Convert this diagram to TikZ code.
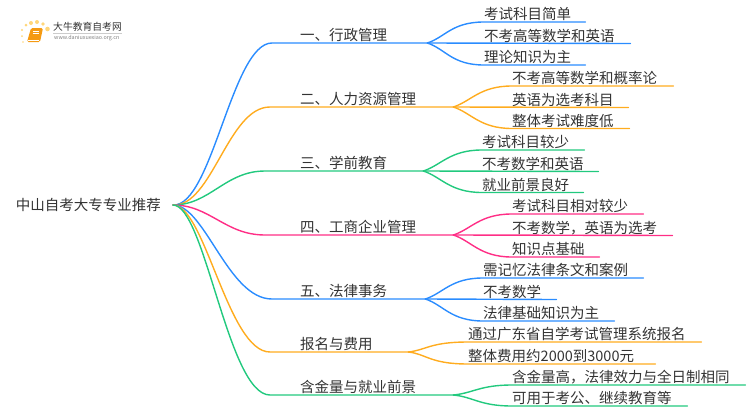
\documentclass[tikz,border=0pt]{standalone}
\usepackage{fontspec}
\setmainfont{Noto Sans CJK SC}
\usetikzlibrary{arrows.meta,positioning}
\definecolor{inkgray}{HTML}{333333}
\definecolor{linkblue}{HTML}{2A8CFF}
\definecolor{linkorange}{HTML}{FFAC1F}
\definecolor{linkgreen}{HTML}{22C97E}
\definecolor{linkpink}{HTML}{FF2E86}
\definecolor{sundot}{HTML}{FFD67A}
\definecolor{bookorange}{HTML}{F59A12}
\begin{document}
\begin{tikzpicture}[
    x=1pt, y=-1pt,
    root/.style={inner sep=0pt, anchor=east, text width=157pt, align=left, font=\fontsize{14.5pt}{16pt}\selectfont, text=inkgray},
    topic/.style={inner sep=0pt, anchor=south west, align=left, text depth=2.2pt, font=\fontsize{14.5pt}{16pt}\selectfont, text=inkgray},
    link/.style={line width=1.4pt, line cap=round},
    bluelink/.style={link, draw=linkblue},
    orangelink/.style={link, draw=linkorange},
    greenlink/.style={link, draw=linkgreen},
    pinklink/.style={link, draw=linkpink},
    sun/.style={fill=sundot, draw=none}
]
\useasboundingbox (0,0) rectangle (750,410);
% logo
\fill[sun] (47.5,29) circle (2.3);
\fill[sun] (43,24) circle (1.8);
\fill[sun] (37,22) circle (2);
\fill[sun] (31,23) circle (2);
\fill[sun] (26,25) circle (1.5);
\fill[sun] (22,30) circle (1.2);
\fill[sun] (22,36) circle (1);
\fill[sun] (23,42) circle (.8);
\fill[bookorange, rounded corners=1.5pt] (31,28) -- (43,28) -- (40,42) -- (27,42) -- cycle;
\draw[white, line width=.5pt] (33,31) -- (39,31) (32.5,33) -- (38.5,33) (28,40) -- (39,40);
\node[inner sep=0pt, anchor=west, text=inkgray, font=\fontsize{9.8pt}{11pt}\selectfont] (logoname) at (53,27) {大牛教育自考网};
\node[inner sep=0pt, anchor=west, text=gray, font=\fontsize{5.4pt}{6pt}\selectfont] (logourl) at (54,38.5) {www.daniuxuexiao.org.cn};
\draw[gray!40, line width=.4pt] (logoname.south west) ++(0,1.5) -- ++(69,0);
% root and topics
\node[root] (recommend) at (173,205) {中山自考大专专业推荐};
\node[topic, text width=127pt] (admin) at (300,43) {一、行政管理};
\node[topic, text width=153pt] (staff) at (300,107) {二、人力资源管理};
\node[topic, text width=123pt] (preschool) at (300,171) {三、学前教育};
\node[topic, text width=153pt] (business) at (300,235) {四、工商企业管理};
\node[topic, text width=125pt] (law) at (300,299) {五、法律事务};
\node[topic, text width=108pt] (signup) at (300,352) {报名与费用};
\node[topic, text width=153pt] (value) at (300,395) {含金量与就业前景};
% leaves
\node[topic, text width=101pt] (admin1) at (484,22) {考试科目简单};
\node[topic, text width=146pt] (admin2) at (484,43.5) {不考高等数学和英语};
\node[topic, text width=101pt] (admin3) at (484,65) {理论知识为主};
\node[topic, text width=161pt] (staff1) at (512,86) {不考高等数学和概率论};
\node[topic, text width=116pt] (staff2) at (512,107.5) {英语为选考科目};
\node[topic, text width=117pt] (staff3) at (512,128.5) {整体考试难度低};
\node[topic, text width=102pt] (preschool1) at (482,150) {考试科目较少};
\node[topic, text width=116pt] (preschool2) at (482,171.5) {不考数学和英语};
\node[topic, text width=101pt] (preschool3) at (482,192.5) {就业前景良好};
\node[topic, text width=131pt] (business1) at (512,214) {考试科目相对较少};
\node[topic, text width=160pt] (business2) at (512,235.5) {不考数学，英语为选考};
\node[topic, text width=87pt] (business3) at (512,257) {知识点基础};
\node[topic, text width=160pt] (law1) at (483,278) {需记忆法律条文和案例};
\node[topic, text width=73pt] (law2) at (483,299.5) {不考数学};
\node[topic, text width=131pt] (law3) at (483,321) {法律基础知识为主};
\node[topic, text width=233pt] (signup1) at (468,342) {通过广东省自学考试管理系统报名};
\node[topic, text width=187pt] (signup2) at (468,364) {整体费用约2000到3000元};
\node[topic, text width=233pt] (value1) at (512,385) {含金量高，法律效力与全日制相同};
\node[topic, text width=175pt] (value2) at (512,406) {可用于考公、继续教育等};
% root links
\draw[bluelink] (recommend.east) .. controls +(39,2) and (232,43) .. (272,43) -- (admin.south west) -- (admin.south east);
\draw[orangelink] (recommend.east) .. controls +(39,2) and (228,107) .. (270,107) -- (staff.south west) -- (staff.south east);
\draw[greenlink] (recommend.east) .. controls +(37,0) and (225,171) .. (265,171) -- (preschool.south west) -- (preschool.south east);
\draw[pinklink] (recommend.east) .. controls +(37,0) and (225,235) .. (265,235) -- (business.south west) -- (business.south east);
\draw[bluelink] (recommend.east) .. controls +(32,0) and (228,299) .. (272,299) -- (law.south west) -- (law.south east);
\draw[orangelink] (recommend.east) .. controls +(32,0) and (228,352) .. (270,352) -- (signup.south west) -- (signup.south east);
\draw[greenlink] (recommend.east) .. controls +(32,0) and (228,395) .. (270,395) -- (value.south west) -- (value.south east);
% leaf links
\draw[bluelink] (admin.south east) .. controls +(18,-6) and +(-32,0) .. (admin1.south west) -- (admin1.south east);
\draw[bluelink] (admin.south east) -- (admin2.south east);
\draw[bluelink] (admin.south east) .. controls +(18,6) and +(-32,0) .. (admin3.south west) -- (admin3.south east);
\draw[orangelink] (staff.south east) .. controls +(18,-6) and +(-32,0) .. (staff1.south west) -- (staff1.south east);
\draw[orangelink] (staff.south east) -- (staff2.south east);
\draw[orangelink] (staff.south east) .. controls +(18,6) and +(-32,0) .. (staff3.south west) -- (staff3.south east);
\draw[greenlink] (preschool.south east) .. controls +(18,-6) and +(-32,0) .. (preschool1.south west) -- (preschool1.south east);
\draw[greenlink] (preschool.south east) -- (preschool2.south east);
\draw[greenlink] (preschool.south east) .. controls +(18,6) and +(-32,0) .. (preschool3.south west) -- (preschool3.south east);
\draw[pinklink] (business.south east) .. controls +(18,-6) and +(-32,0) .. (business1.south west) -- (business1.south east);
\draw[pinklink] (business.south east) -- (business2.south east);
\draw[pinklink] (business.south east) .. controls +(18,6) and +(-32,0) .. (business3.south west) -- (business3.south east);
\draw[bluelink] (law.south east) .. controls +(18,-6) and +(-32,0) .. (law1.south west) -- (law1.south east);
\draw[bluelink] (law.south east) -- (law2.south east);
\draw[bluelink] (law.south east) .. controls +(18,6) and +(-32,0) .. (law3.south west) -- (law3.south east);
\draw[orangelink] (signup.south east) .. controls +(18,-2) and +(-38,0) .. (signup1.south west) -- (signup1.south east);
\draw[orangelink] (signup.south east) .. controls +(18,2) and +(-38,0) .. (signup2.south west) -- (signup2.south east);
\draw[greenlink] (value.south east) .. controls +(20,-2) and +(-32,0) .. (value1.south west) -- (value1.south east);
\draw[greenlink] (value.south east) .. controls +(20,2) and +(-32,0) .. (value2.south west) -- (value2.south east);
\end{tikzpicture}
\end{document}
